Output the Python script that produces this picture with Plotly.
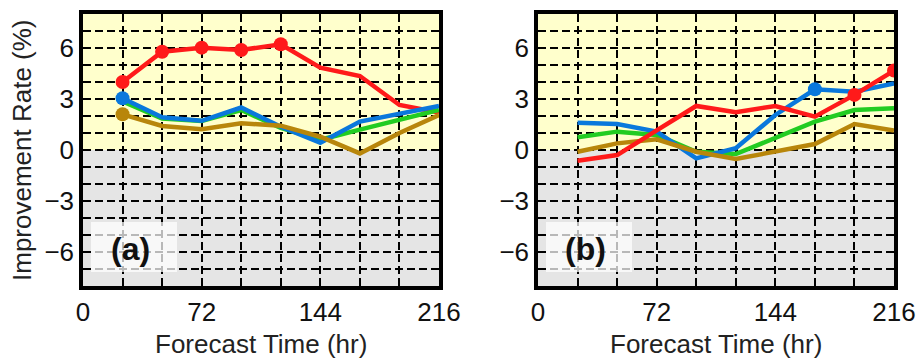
import plotly.graph_objects as go

hours = [24, 48, 72, 96, 120, 144, 168, 192, 216]

# Panel (a)
a_red = [4.0, 5.78, 6.02, 5.88, 6.22, 4.84, 4.35, 2.65, 2.2]
a_green = [2.85, 1.85, 1.7, 2.35, 1.3, 0.6, 1.2, 1.75, 2.35]
a_blue = [3.04, 1.92, 1.72, 2.5, 1.37, 0.43, 1.67, 2.16, 2.59]
a_brown = [2.1, 1.41, 1.22, 1.57, 1.43, 0.78, -0.2, 1.0, 2.06]
a_red_marks = [24, 48, 72, 96, 120]
a_blue_marks = [24]
a_brown_marks = [24]

# Panel (b)
b_red = [-0.63, -0.3, 1.15, 2.59, 2.22, 2.59, 1.96, 3.24, 4.67]
b_green = [0.75, 1.08, 0.88, -0.1, -0.24, 0.75, 1.67, 2.35, 2.45]
b_blue = [1.6, 1.53, 1.08, -0.49, 0.1, 2.06, 3.57, 3.43, 3.92]
b_brown = [-0.1, 0.39, 0.63, -0.1, -0.53, -0.1, 0.35, 1.53, 1.14]
b_red_marks = [192, 216]
b_blue_marks = [168]

x_ticks = list(range(0, 217, 24))
x_labels = ["0", "", "", "72", "", "", "144", "", "", "216"]
y_ticks = list(range(-8, 9))
y_labels = ["" if v % 3 else ("\u2212" + str(-v) if v < 0 else str(v)) for v in y_ticks]
y_labels[0] = ""
y_labels[-1] = ""

x_title = "Forecast Time (hr)"
y_title = "Improvement Rate (%)"

RED = "#FF1A1A"
GREEN = "#22CC22"
BLUE = "#0A78DC"
BROWN = "#B8860B"

fig = go.Figure()


def add_series(xs, ys, color, marks, xa, ya):
    fig.add_trace(go.Scatter(x=xs, y=ys, mode="lines", line=dict(color=color, width=4.5),
                             xaxis=xa, yaxis=ya, showlegend=False, hoverinfo="skip"))
    if marks:
        my = [ys[xs.index(m)] for m in marks]
        fig.add_trace(go.Scatter(x=marks, y=my, mode="markers",
                                 marker=dict(color=color, size=14, line=dict(width=0)),
                                 xaxis=xa, yaxis=ya, showlegend=False, hoverinfo="skip"))


add_series(hours, a_red, RED, a_red_marks, "x", "y")
add_series(hours, a_green, GREEN, [], "x", "y")
add_series(hours, a_blue, BLUE, a_blue_marks, "x", "y")
add_series(hours, a_brown, BROWN, a_brown_marks, "x", "y")

add_series(hours, b_green, GREEN, [], "x2", "y2")
add_series(hours, b_blue, BLUE, b_blue_marks, "x2", "y2")
add_series(hours, b_brown, BROWN, [], "x2", "y2")
add_series(hours, b_red, RED, b_red_marks, "x2", "y2")

W, H = 918, 360
ML, MR, MT, MB = 83, 24, 14, 74
PW = W - ML - MR
font = "Liberation Sans, Arial, sans-serif"

xcommon = dict(range=[0, 216], tickvals=x_ticks, ticktext=x_labels, showgrid=True,
               gridcolor="black", gridwidth=1.6, griddash="8px,4px",
               showline=True, linecolor="black", linewidth=3.5, mirror=True,
               ticks="", zeroline=False, automargin=False,
               tickfont=dict(family=font, size=26, color="#111"), fixedrange=True)
ycommon = dict(range=[-8, 8], tickvals=y_ticks, ticktext=y_labels, showgrid=True,
               gridcolor="black", gridwidth=1.6, griddash="8px,4px",
               showline=True, linecolor="black", linewidth=3.5, mirror=True,
               ticks="", zeroline=False, automargin=False,
               tickfont=dict(family=font, size=26, color="#111"), fixedrange=True)

fig.update_layout(
    width=W, height=H, margin=dict(l=ML, r=MR, t=MT, b=MB, autoexpand=False),
    paper_bgcolor="white", plot_bgcolor="white",
    xaxis=dict(domain=[0, (439 - ML) / PW], anchor="y", **xcommon),
    yaxis=dict(domain=[0, 1], anchor="x", **ycommon),
    xaxis2=dict(domain=[(538 - ML) / PW, 1], anchor="y2", **xcommon),
    yaxis2=dict(domain=[0, 1], anchor="x2", **ycommon),
)

shapes = []
for xr, yr in (("x", "y"), ("x2", "y2")):
    shapes.append(dict(type="rect", xref=xr + " domain", yref=yr, x0=0, x1=1, y0=0, y1=8,
                       fillcolor="#FFFFCC", line=dict(width=0), layer="below"))
    shapes.append(dict(type="rect", xref=xr + " domain", yref=yr, x0=0, x1=1, y0=-8, y1=0,
                       fillcolor="#E5E5E5", line=dict(width=0), layer="below"))


def px_x(p):
    return (p - ML) / PW


def px_y(p):
    return (H - MB - p) / (H - MT - MB)


# label boxes
for x0 in (91, 546):
    shapes.append(dict(type="rect", xref="paper", yref="paper",
                       x0=px_x(x0), x1=px_x(x0 + 86), y0=px_y(272), y1=px_y(222),
                       fillcolor="rgba(255,255,255,0.72)", line=dict(width=0), layer="above"))
fig.update_layout(shapes=shapes)

for cx, txt in ((130, "(a)"), (585, "(b)")):
    fig.add_annotation(x=px_x(cx), y=px_y(249), xref="paper", yref="paper",
                       text="<b>" + txt + "</b>", showarrow=False, xanchor="center", yanchor="middle",
                       font=dict(family=font, size=32, color="#111"))

# axis titles
for cx in (261, 716):
    fig.add_annotation(x=px_x(cx), y=px_y(344), xref="paper", yref="paper",
                       text=x_title, showarrow=False, xanchor="center", yanchor="middle",
                       font=dict(family=font, size=26, color="#222"))
fig.add_annotation(x=px_x(22), y=px_y(150), xref="paper", yref="paper",
                   text=y_title, showarrow=False, xanchor="center", yanchor="middle",
                   textangle=-90, font=dict(family=font, size=26, color="#222"))

fig.write_html("out.html", config={"displayModeBar": False},
               post_script="document.body.style.margin='0';document.body.style.overflow='hidden';")
